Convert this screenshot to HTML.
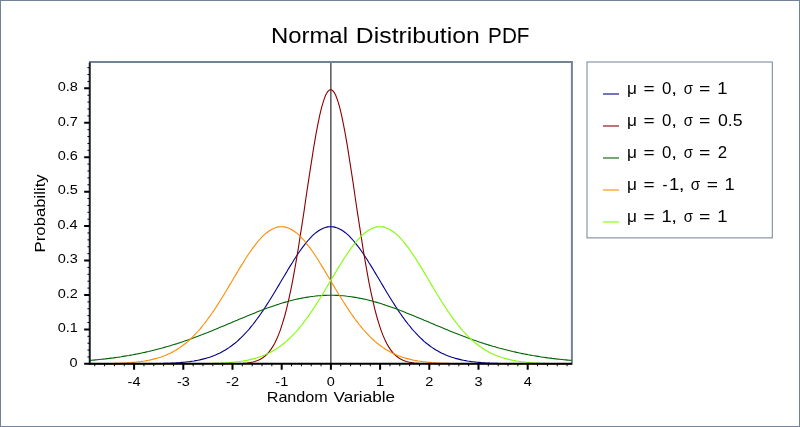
<!DOCTYPE html><html><head><meta charset="utf-8"><style>html,body{margin:0;padding:0;background:#fff}svg{display:block;will-change:transform;transform:translateZ(0)}text{font-family:"Liberation Sans",sans-serif;fill:#000}</style></head><body>
<svg width="800" height="427" viewBox="0 0 800 427">
<defs><clipPath id="c"><rect x="90" y="62" width="481.9" height="302.85"/></clipPath></defs>
<rect x="0.5" y="0.5" width="799" height="426" fill="#fff" stroke="#728395" stroke-width="1"/>
<path d="M89,62 H571.9 V364.85" fill="none" stroke="#728395" stroke-width="2" stroke-linejoin="miter"/>
<line x1="330.9" y1="63" x2="330.9" y2="363.85" stroke="#000" stroke-width="1"/>
<g clip-path="url(#c)">
<polyline points="89.6,363.8 91.5,363.8 93.5,363.8 95.5,363.8 97.4,363.8 99.4,363.8 101.4,363.8 103.3,363.8 105.3,363.8 107.3,363.8 109.2,363.8 111.2,363.8 113.2,363.8 115.2,363.8 117.1,363.8 119.1,363.8 121.1,363.8 123.0,363.8 125.0,363.8 127.0,363.8 128.9,363.8 130.9,363.8 132.9,363.8 134.8,363.8 136.8,363.8 138.8,363.8 140.7,363.8 142.7,363.8 144.7,363.7 146.6,363.7 148.6,363.7 150.6,363.7 152.5,363.7 154.5,363.6 156.5,363.6 158.4,363.5 160.4,363.5 162.4,363.5 164.4,363.4 166.3,363.3 168.3,363.3 170.3,363.2 172.2,363.1 174.2,363.0 176.2,362.9 178.1,362.7 180.1,362.6 182.1,362.4 184.0,362.2 186.0,362.0 188.0,361.8 189.9,361.6 191.9,361.3 193.9,361.0 195.8,360.6 197.8,360.3 199.8,359.9 201.7,359.4 203.7,358.9 205.7,358.4 207.6,357.8 209.6,357.2 211.6,356.5 213.6,355.8 215.5,355.0 217.5,354.1 219.5,353.2 221.4,352.2 223.4,351.1 225.4,350.0 227.3,348.7 229.3,347.4 231.3,346.0 233.2,344.5 235.2,343.0 237.2,341.3 239.1,339.5 241.1,337.7 243.1,335.7 245.0,333.7 247.0,331.5 249.0,329.3 250.9,326.9 252.9,324.5 254.9,321.9 256.8,319.3 258.8,316.6 260.8,313.8 262.8,310.9 264.7,308.0 266.7,304.9 268.7,301.8 270.6,298.7 272.6,295.5 274.6,292.2 276.5,289.0 278.5,285.6 280.5,282.3 282.4,279.0 284.4,275.7 286.4,272.4 288.3,269.1 290.3,265.9 292.3,262.7 294.2,259.5 296.2,256.5 298.2,253.5 300.1,250.7 302.1,247.9 304.1,245.3 306.0,242.8 308.0,240.5 310.0,238.3 312.0,236.2 313.9,234.4 315.9,232.7 317.9,231.3 319.8,230.0 321.8,228.9 323.8,228.0 325.7,227.4 327.7,226.9 329.7,226.7 331.6,226.7 333.6,226.9 335.6,227.4 337.5,228.0 339.5,228.9 341.5,230.0 343.4,231.3 345.4,232.7 347.4,234.4 349.3,236.2 351.3,238.3 353.3,240.5 355.2,242.8 357.2,245.3 359.2,247.9 361.2,250.7 363.1,253.5 365.1,256.5 367.1,259.5 369.0,262.7 371.0,265.9 373.0,269.1 374.9,272.4 376.9,275.7 378.9,279.0 380.8,282.3 382.8,285.6 384.8,289.0 386.7,292.2 388.7,295.5 390.7,298.7 392.6,301.8 394.6,304.9 396.6,308.0 398.5,310.9 400.5,313.8 402.5,316.6 404.4,319.3 406.4,321.9 408.4,324.5 410.4,326.9 412.3,329.3 414.3,331.5 416.3,333.7 418.2,335.7 420.2,337.7 422.2,339.5 424.1,341.3 426.1,343.0 428.1,344.5 430.0,346.0 432.0,347.4 434.0,348.7 435.9,350.0 437.9,351.1 439.9,352.2 441.8,353.2 443.8,354.1 445.8,355.0 447.7,355.8 449.7,356.5 451.7,357.2 453.7,357.8 455.6,358.4 457.6,358.9 459.6,359.4 461.5,359.9 463.5,360.3 465.5,360.6 467.4,361.0 469.4,361.3 471.4,361.6 473.3,361.8 475.3,362.0 477.3,362.2 479.2,362.4 481.2,362.6 483.2,362.7 485.1,362.9 487.1,363.0 489.1,363.1 491.0,363.2 493.0,363.3 495.0,363.3 496.9,363.4 498.9,363.5 500.9,363.5 502.9,363.5 504.8,363.6 506.8,363.6 508.8,363.7 510.7,363.7 512.7,363.7 514.7,363.7 516.6,363.7 518.6,363.8 520.6,363.8 522.5,363.8 524.5,363.8 526.5,363.8 528.4,363.8 530.4,363.8 532.4,363.8 534.3,363.8 536.3,363.8 538.3,363.8 540.2,363.8 542.2,363.8 544.2,363.8 546.1,363.8 548.1,363.8 550.1,363.8 552.0,363.8 554.0,363.8 556.0,363.8 558.0,363.8 559.9,363.8 561.9,363.8 563.9,363.8 565.8,363.8 567.8,363.8 569.8,363.8 571.7,363.8" fill="none" stroke="#00008b" stroke-width="1.1" stroke-linejoin="round"/>
<polyline points="89.6,363.9 91.5,363.9 93.5,363.9 95.5,363.9 97.4,363.9 99.4,363.9 101.4,363.9 103.3,363.9 105.3,363.9 107.3,363.9 109.2,363.9 111.2,363.9 113.2,363.9 115.2,363.9 117.1,363.9 119.1,363.9 121.1,363.8 123.0,363.8 125.0,363.8 127.0,363.8 128.9,363.8 130.9,363.8 132.9,363.8 134.8,363.8 136.8,363.8 138.8,363.8 140.7,363.8 142.7,363.8 144.7,363.8 146.6,363.8 148.6,363.8 150.6,363.8 152.5,363.8 154.5,363.8 156.5,363.8 158.4,363.8 160.4,363.8 162.4,363.8 164.4,363.8 166.3,363.8 168.3,363.8 170.3,363.8 172.2,363.8 174.2,363.8 176.2,363.8 178.1,363.8 180.1,363.8 182.1,363.8 184.0,363.8 186.0,363.8 188.0,363.8 189.9,363.8 191.9,363.8 193.9,363.8 195.8,363.8 197.8,363.8 199.8,363.8 201.7,363.8 203.7,363.8 205.7,363.8 207.6,363.8 209.6,363.8 211.6,363.8 213.6,363.8 215.5,363.8 217.5,363.8 219.5,363.8 221.4,363.8 223.4,363.8 225.4,363.8 227.3,363.8 229.3,363.8 231.3,363.8 233.2,363.7 235.2,363.7 237.2,363.6 239.1,363.6 241.1,363.5 243.1,363.4 245.0,363.2 247.0,363.0 249.0,362.7 250.9,362.4 252.9,362.0 254.9,361.5 256.8,360.8 258.8,360.0 260.8,359.0 262.8,357.8 264.7,356.3 266.7,354.5 268.7,352.4 270.6,349.9 272.6,346.9 274.6,343.5 276.5,339.5 278.5,334.9 280.5,329.6 282.4,323.7 284.4,317.0 286.4,309.6 288.3,301.4 290.3,292.4 292.3,282.6 294.2,272.1 296.2,260.9 298.2,249.1 300.1,236.7 302.1,223.9 304.1,210.8 306.0,197.5 308.0,184.2 310.0,171.1 312.0,158.3 313.9,146.2 315.9,134.7 317.9,124.2 319.8,114.8 321.8,106.7 323.8,100.1 325.7,95.0 327.7,91.5 329.7,89.8 331.6,89.8 333.6,91.5 335.6,95.0 337.5,100.1 339.5,106.7 341.5,114.8 343.4,124.2 345.4,134.7 347.4,146.2 349.3,158.3 351.3,171.1 353.3,184.2 355.2,197.5 357.2,210.8 359.2,223.9 361.2,236.7 363.1,249.1 365.1,260.9 367.1,272.1 369.0,282.6 371.0,292.4 373.0,301.4 374.9,309.6 376.9,317.0 378.9,323.7 380.8,329.6 382.8,334.9 384.8,339.5 386.7,343.5 388.7,346.9 390.7,349.9 392.6,352.4 394.6,354.5 396.6,356.3 398.5,357.8 400.5,359.0 402.5,360.0 404.4,360.8 406.4,361.5 408.4,362.0 410.4,362.4 412.3,362.7 414.3,363.0 416.3,363.2 418.2,363.4 420.2,363.5 422.2,363.6 424.1,363.6 426.1,363.7 428.1,363.7 430.0,363.8 432.0,363.8 434.0,363.8 435.9,363.8 437.9,363.8 439.9,363.8 441.8,363.8 443.8,363.8 445.8,363.8 447.7,363.8 449.7,363.8 451.7,363.8 453.7,363.8 455.6,363.8 457.6,363.8 459.6,363.8 461.5,363.8 463.5,363.8 465.5,363.8 467.4,363.8 469.4,363.8 471.4,363.8 473.3,363.8 475.3,363.8 477.3,363.8 479.2,363.8 481.2,363.8 483.2,363.8 485.1,363.8 487.1,363.8 489.1,363.8 491.0,363.8 493.0,363.8 495.0,363.8 496.9,363.8 498.9,363.8 500.9,363.8 502.9,363.8 504.8,363.8 506.8,363.8 508.8,363.8 510.7,363.8 512.7,363.8 514.7,363.8 516.6,363.8 518.6,363.8 520.6,363.8 522.5,363.8 524.5,363.8 526.5,363.8 528.4,363.8 530.4,363.8 532.4,363.8 534.3,363.8 536.3,363.8 538.3,363.8 540.2,363.8 542.2,363.9 544.2,363.9 546.1,363.9 548.1,363.9 550.1,363.9 552.0,363.9 554.0,363.9 556.0,363.9 558.0,363.9 559.9,363.9 561.9,363.9 563.9,363.9 565.8,363.9 567.8,363.9 569.8,363.9 571.7,363.9" fill="none" stroke="#8b0000" stroke-width="1.1" stroke-linejoin="round"/>
<polyline points="89.6,360.4 91.5,360.3 93.5,360.1 95.5,359.9 97.4,359.7 99.4,359.5 101.4,359.3 103.3,359.1 105.3,358.9 107.3,358.6 109.2,358.4 111.2,358.1 113.2,357.9 115.2,357.6 117.1,357.3 119.1,357.1 121.1,356.8 123.0,356.4 125.0,356.1 127.0,355.8 128.9,355.5 130.9,355.1 132.9,354.8 134.8,354.4 136.8,354.0 138.8,353.6 140.7,353.2 142.7,352.8 144.7,352.4 146.6,351.9 148.6,351.5 150.6,351.0 152.5,350.5 154.5,350.0 156.5,349.5 158.4,349.0 160.4,348.5 162.4,348.0 164.4,347.4 166.3,346.8 168.3,346.3 170.3,345.7 172.2,345.1 174.2,344.5 176.2,343.9 178.1,343.2 180.1,342.6 182.1,341.9 184.0,341.3 186.0,340.6 188.0,339.9 189.9,339.2 191.9,338.5 193.9,337.8 195.8,337.0 197.8,336.3 199.8,335.5 201.7,334.8 203.7,334.0 205.7,333.2 207.6,332.5 209.6,331.7 211.6,330.9 213.6,330.1 215.5,329.3 217.5,328.4 219.5,327.6 221.4,326.8 223.4,326.0 225.4,325.2 227.3,324.3 229.3,323.5 231.3,322.7 233.2,321.8 235.2,321.0 237.2,320.2 239.1,319.3 241.1,318.5 243.1,317.7 245.0,316.9 247.0,316.1 249.0,315.3 250.9,314.5 252.9,313.7 254.9,312.9 256.8,312.1 258.8,311.3 260.8,310.6 262.8,309.8 264.7,309.1 266.7,308.3 268.7,307.6 270.6,306.9 272.6,306.2 274.6,305.6 276.5,304.9 278.5,304.3 280.5,303.6 282.4,303.0 284.4,302.4 286.4,301.9 288.3,301.3 290.3,300.8 292.3,300.3 294.2,299.8 296.2,299.3 298.2,298.9 300.1,298.5 302.1,298.1 304.1,297.7 306.0,297.4 308.0,297.1 310.0,296.8 312.0,296.5 313.9,296.3 315.9,296.0 317.9,295.8 319.8,295.7 321.8,295.5 323.8,295.4 325.7,295.4 327.7,295.3 329.7,295.3 331.6,295.3 333.6,295.3 335.6,295.4 337.5,295.4 339.5,295.5 341.5,295.7 343.4,295.8 345.4,296.0 347.4,296.3 349.3,296.5 351.3,296.8 353.3,297.1 355.2,297.4 357.2,297.7 359.2,298.1 361.2,298.5 363.1,298.9 365.1,299.3 367.1,299.8 369.0,300.3 371.0,300.8 373.0,301.3 374.9,301.9 376.9,302.4 378.9,303.0 380.8,303.6 382.8,304.3 384.8,304.9 386.7,305.6 388.7,306.2 390.7,306.9 392.6,307.6 394.6,308.3 396.6,309.1 398.5,309.8 400.5,310.6 402.5,311.3 404.4,312.1 406.4,312.9 408.4,313.7 410.4,314.5 412.3,315.3 414.3,316.1 416.3,316.9 418.2,317.7 420.2,318.5 422.2,319.3 424.1,320.2 426.1,321.0 428.1,321.8 430.0,322.7 432.0,323.5 434.0,324.3 435.9,325.2 437.9,326.0 439.9,326.8 441.8,327.6 443.8,328.4 445.8,329.3 447.7,330.1 449.7,330.9 451.7,331.7 453.7,332.5 455.6,333.2 457.6,334.0 459.6,334.8 461.5,335.5 463.5,336.3 465.5,337.0 467.4,337.8 469.4,338.5 471.4,339.2 473.3,339.9 475.3,340.6 477.3,341.3 479.2,341.9 481.2,342.6 483.2,343.2 485.1,343.9 487.1,344.5 489.1,345.1 491.0,345.7 493.0,346.3 495.0,346.8 496.9,347.4 498.9,348.0 500.9,348.5 502.9,349.0 504.8,349.5 506.8,350.0 508.8,350.5 510.7,351.0 512.7,351.5 514.7,351.9 516.6,352.4 518.6,352.8 520.6,353.2 522.5,353.6 524.5,354.0 526.5,354.4 528.4,354.8 530.4,355.1 532.4,355.5 534.3,355.8 536.3,356.1 538.3,356.4 540.2,356.8 542.2,357.1 544.2,357.3 546.1,357.6 548.1,357.9 550.1,358.1 552.0,358.4 554.0,358.6 556.0,358.9 558.0,359.1 559.9,359.3 561.9,359.5 563.9,359.7 565.8,359.9 567.8,360.1 569.8,360.3 571.7,360.4" fill="none" stroke="#006400" stroke-width="1.1" stroke-linejoin="round"/>
<polyline points="89.6,363.8 91.5,363.8 93.5,363.8 95.5,363.7 97.4,363.7 99.4,363.7 101.4,363.7 103.3,363.7 105.3,363.6 107.3,363.6 109.2,363.5 111.2,363.5 113.2,363.5 115.2,363.4 117.1,363.3 119.1,363.3 121.1,363.2 123.0,363.1 125.0,363.0 127.0,362.9 128.9,362.7 130.9,362.6 132.9,362.4 134.8,362.2 136.8,362.0 138.8,361.8 140.7,361.6 142.7,361.3 144.7,361.0 146.6,360.6 148.6,360.3 150.6,359.9 152.5,359.4 154.5,358.9 156.5,358.4 158.4,357.8 160.4,357.2 162.4,356.5 164.4,355.8 166.3,355.0 168.3,354.1 170.3,353.2 172.2,352.2 174.2,351.1 176.2,350.0 178.1,348.7 180.1,347.4 182.1,346.0 184.0,344.5 186.0,343.0 188.0,341.3 189.9,339.5 191.9,337.7 193.9,335.7 195.8,333.7 197.8,331.5 199.8,329.3 201.7,326.9 203.7,324.5 205.7,321.9 207.6,319.3 209.6,316.6 211.6,313.8 213.6,310.9 215.5,308.0 217.5,304.9 219.5,301.8 221.4,298.7 223.4,295.5 225.4,292.2 227.3,289.0 229.3,285.6 231.3,282.3 233.2,279.0 235.2,275.7 237.2,272.4 239.1,269.1 241.1,265.9 243.1,262.7 245.0,259.5 247.0,256.5 249.0,253.5 250.9,250.7 252.9,247.9 254.9,245.3 256.8,242.8 258.8,240.5 260.8,238.3 262.8,236.2 264.7,234.4 266.7,232.7 268.7,231.3 270.6,230.0 272.6,228.9 274.6,228.0 276.5,227.4 278.5,226.9 280.5,226.7 282.4,226.7 284.4,226.9 286.4,227.4 288.3,228.0 290.3,228.9 292.3,230.0 294.2,231.3 296.2,232.7 298.2,234.4 300.1,236.2 302.1,238.3 304.1,240.5 306.0,242.8 308.0,245.3 310.0,247.9 312.0,250.7 313.9,253.5 315.9,256.5 317.9,259.5 319.8,262.7 321.8,265.9 323.8,269.1 325.7,272.4 327.7,275.7 329.7,279.0 331.6,282.3 333.6,285.6 335.6,289.0 337.5,292.2 339.5,295.5 341.5,298.7 343.4,301.8 345.4,304.9 347.4,308.0 349.3,310.9 351.3,313.8 353.3,316.6 355.2,319.3 357.2,321.9 359.2,324.5 361.2,326.9 363.1,329.3 365.1,331.5 367.1,333.7 369.0,335.7 371.0,337.7 373.0,339.5 374.9,341.3 376.9,343.0 378.9,344.5 380.8,346.0 382.8,347.4 384.8,348.7 386.7,350.0 388.7,351.1 390.7,352.2 392.6,353.2 394.6,354.1 396.6,355.0 398.5,355.8 400.5,356.5 402.5,357.2 404.4,357.8 406.4,358.4 408.4,358.9 410.4,359.4 412.3,359.9 414.3,360.3 416.3,360.6 418.2,361.0 420.2,361.3 422.2,361.6 424.1,361.8 426.1,362.0 428.1,362.2 430.0,362.4 432.0,362.6 434.0,362.7 435.9,362.9 437.9,363.0 439.9,363.1 441.8,363.2 443.8,363.3 445.8,363.3 447.7,363.4 449.7,363.5 451.7,363.5 453.7,363.5 455.6,363.6 457.6,363.6 459.6,363.7 461.5,363.7 463.5,363.7 465.5,363.7 467.4,363.7 469.4,363.8 471.4,363.8 473.3,363.8 475.3,363.8 477.3,363.8 479.2,363.8 481.2,363.8 483.2,363.8 485.1,363.8 487.1,363.8 489.1,363.8 491.0,363.8 493.0,363.8 495.0,363.8 496.9,363.8 498.9,363.8 500.9,363.8 502.9,363.8 504.8,363.8 506.8,363.8 508.8,363.8 510.7,363.8 512.7,363.8 514.7,363.8 516.6,363.8 518.6,363.8 520.6,363.8 522.5,363.8 524.5,363.8 526.5,363.8 528.4,363.8 530.4,363.8 532.4,363.8 534.3,363.8 536.3,363.8 538.3,363.8 540.2,363.8 542.2,363.8 544.2,363.8 546.1,363.8 548.1,363.8 550.1,363.8 552.0,363.8 554.0,363.8 556.0,363.8 558.0,363.8 559.9,363.8 561.9,363.8 563.9,363.8 565.8,363.8 567.8,363.8 569.8,363.8 571.7,363.8" fill="none" stroke="#ff8c00" stroke-width="1.1" stroke-linejoin="round"/>
<polyline points="89.6,363.8 91.5,363.8 93.5,363.8 95.5,363.8 97.4,363.8 99.4,363.8 101.4,363.8 103.3,363.8 105.3,363.8 107.3,363.8 109.2,363.8 111.2,363.8 113.2,363.8 115.2,363.8 117.1,363.8 119.1,363.8 121.1,363.8 123.0,363.8 125.0,363.8 127.0,363.8 128.9,363.8 130.9,363.8 132.9,363.8 134.8,363.8 136.8,363.8 138.8,363.8 140.7,363.8 142.7,363.8 144.7,363.8 146.6,363.8 148.6,363.8 150.6,363.8 152.5,363.8 154.5,363.8 156.5,363.8 158.4,363.8 160.4,363.8 162.4,363.8 164.4,363.8 166.3,363.8 168.3,363.8 170.3,363.8 172.2,363.8 174.2,363.8 176.2,363.8 178.1,363.8 180.1,363.8 182.1,363.8 184.0,363.8 186.0,363.8 188.0,363.8 189.9,363.8 191.9,363.8 193.9,363.7 195.8,363.7 197.8,363.7 199.8,363.7 201.7,363.7 203.7,363.6 205.7,363.6 207.6,363.5 209.6,363.5 211.6,363.5 213.6,363.4 215.5,363.3 217.5,363.3 219.5,363.2 221.4,363.1 223.4,363.0 225.4,362.9 227.3,362.7 229.3,362.6 231.3,362.4 233.2,362.2 235.2,362.0 237.2,361.8 239.1,361.6 241.1,361.3 243.1,361.0 245.0,360.6 247.0,360.3 249.0,359.9 250.9,359.4 252.9,358.9 254.9,358.4 256.8,357.8 258.8,357.2 260.8,356.5 262.8,355.8 264.7,355.0 266.7,354.1 268.7,353.2 270.6,352.2 272.6,351.1 274.6,350.0 276.5,348.7 278.5,347.4 280.5,346.0 282.4,344.5 284.4,343.0 286.4,341.3 288.3,339.5 290.3,337.7 292.3,335.7 294.2,333.7 296.2,331.5 298.2,329.3 300.1,326.9 302.1,324.5 304.1,321.9 306.0,319.3 308.0,316.6 310.0,313.8 312.0,310.9 313.9,308.0 315.9,304.9 317.9,301.8 319.8,298.7 321.8,295.5 323.8,292.2 325.7,289.0 327.7,285.6 329.7,282.3 331.6,279.0 333.6,275.7 335.6,272.4 337.5,269.1 339.5,265.9 341.5,262.7 343.4,259.5 345.4,256.5 347.4,253.5 349.3,250.7 351.3,247.9 353.3,245.3 355.2,242.8 357.2,240.5 359.2,238.3 361.2,236.2 363.1,234.4 365.1,232.7 367.1,231.3 369.0,230.0 371.0,228.9 373.0,228.0 374.9,227.4 376.9,226.9 378.9,226.7 380.8,226.7 382.8,226.9 384.8,227.4 386.7,228.0 388.7,228.9 390.7,230.0 392.6,231.3 394.6,232.7 396.6,234.4 398.5,236.2 400.5,238.3 402.5,240.5 404.4,242.8 406.4,245.3 408.4,247.9 410.4,250.7 412.3,253.5 414.3,256.5 416.3,259.5 418.2,262.7 420.2,265.9 422.2,269.1 424.1,272.4 426.1,275.7 428.1,279.0 430.0,282.3 432.0,285.6 434.0,289.0 435.9,292.2 437.9,295.5 439.9,298.7 441.8,301.8 443.8,304.9 445.8,308.0 447.7,310.9 449.7,313.8 451.7,316.6 453.7,319.3 455.6,321.9 457.6,324.5 459.6,326.9 461.5,329.3 463.5,331.5 465.5,333.7 467.4,335.7 469.4,337.7 471.4,339.5 473.3,341.3 475.3,343.0 477.3,344.5 479.2,346.0 481.2,347.4 483.2,348.7 485.1,350.0 487.1,351.1 489.1,352.2 491.0,353.2 493.0,354.1 495.0,355.0 496.9,355.8 498.9,356.5 500.9,357.2 502.9,357.8 504.8,358.4 506.8,358.9 508.8,359.4 510.7,359.9 512.7,360.3 514.7,360.6 516.6,361.0 518.6,361.3 520.6,361.6 522.5,361.8 524.5,362.0 526.5,362.2 528.4,362.4 530.4,362.6 532.4,362.7 534.3,362.9 536.3,363.0 538.3,363.1 540.2,363.2 542.2,363.3 544.2,363.3 546.1,363.4 548.1,363.5 550.1,363.5 552.0,363.5 554.0,363.6 556.0,363.6 558.0,363.7 559.9,363.7 561.9,363.7 563.9,363.7 565.8,363.7 567.8,363.8 569.8,363.8 571.7,363.8" fill="none" stroke="#7fff00" stroke-width="1.1" stroke-linejoin="round"/>
</g>
<line x1="89.75" y1="62.6" x2="89.75" y2="364.85" stroke="#171e28" stroke-width="2"/>
<line x1="89" y1="363.85" x2="571.9" y2="363.85" stroke="#000" stroke-width="2"/>
<path d="M94.74,363.85v2.4M104.58,363.85v2.4M114.42,363.85v2.4M124.26,363.85v2.4M143.94,363.85v2.4M153.78,363.85v2.4M163.62,363.85v2.4M173.46,363.85v2.4M193.14,363.85v2.4M202.98,363.85v2.4M212.82,363.85v2.4M222.66,363.85v2.4M242.34,363.85v2.4M252.18,363.85v2.4M262.02,363.85v2.4M271.86,363.85v2.4M291.54,363.85v2.4M301.38,363.85v2.4M311.22,363.85v2.4M321.06,363.85v2.4M340.74,363.85v2.4M350.58,363.85v2.4M360.42,363.85v2.4M370.26,363.85v2.4M389.94,363.85v2.4M399.78,363.85v2.4M409.62,363.85v2.4M419.46,363.85v2.4M439.14,363.85v2.4M448.98,363.85v2.4M458.82,363.85v2.4M468.66,363.85v2.4M488.34,363.85v2.4M498.18,363.85v2.4M508.02,363.85v2.4M517.86,363.85v2.4M537.54,363.85v2.4M547.38,363.85v2.4M557.22,363.85v2.4M567.06,363.85v2.4" stroke="#000" stroke-width="1" fill="none"/>
<path d="M134.10,363.85v5.8M183.30,363.85v5.8M232.50,363.85v5.8M281.70,363.85v5.8M330.90,363.85v5.8M380.10,363.85v5.8M429.30,363.85v5.8M478.50,363.85v5.8M527.70,363.85v5.8" stroke="#000" stroke-width="2" fill="none"/>
<path d="M89.75,356.96h-2.3M89.75,350.07h-2.3M89.75,343.19h-2.3M89.75,336.30h-2.3M89.75,322.52h-2.3M89.75,315.63h-2.3M89.75,308.75h-2.3M89.75,301.86h-2.3M89.75,288.08h-2.3M89.75,281.19h-2.3M89.75,274.31h-2.3M89.75,267.42h-2.3M89.75,253.64h-2.3M89.75,246.75h-2.3M89.75,239.87h-2.3M89.75,232.98h-2.3M89.75,219.20h-2.3M89.75,212.31h-2.3M89.75,205.43h-2.3M89.75,198.54h-2.3M89.75,184.76h-2.3M89.75,177.87h-2.3M89.75,170.99h-2.3M89.75,164.10h-2.3M89.75,150.32h-2.3M89.75,143.43h-2.3M89.75,136.55h-2.3M89.75,129.66h-2.3M89.75,115.88h-2.3M89.75,108.99h-2.3M89.75,102.11h-2.3M89.75,95.22h-2.3M89.75,81.44h-2.3M89.75,74.55h-2.3M89.75,67.67h-2.3" stroke="#000" stroke-width="1" fill="none"/>
<path d="M89.75,363.85h-5.6M89.75,329.41h-5.6M89.75,294.97h-5.6M89.75,260.53h-5.6M89.75,226.09h-5.6M89.75,191.65h-5.6M89.75,157.21h-5.6M89.75,122.77h-5.6M89.75,88.33h-5.6" stroke="#000" stroke-width="2" fill="none"/>
<rect x="587" y="62" width="185.3" height="175.9" fill="#fff" stroke="#728395" stroke-width="1"/>
<line x1="603" y1="94" x2="619" y2="94" stroke="#00008b" stroke-width="1.1"/>
<line x1="603" y1="126" x2="619" y2="126" stroke="#8b0000" stroke-width="1.1"/>
<line x1="603" y1="158" x2="619" y2="158" stroke="#006400" stroke-width="1.1"/>
<line x1="603" y1="190" x2="619" y2="190" stroke="#ff8c00" stroke-width="1.1"/>
<line x1="603" y1="222" x2="619" y2="222" stroke="#7fff00" stroke-width="1.1"/>
<text x="270.93" y="42.70" font-size="21.8" textLength="77.04" lengthAdjust="spacingAndGlyphs" xml:space="preserve">Normal</text>
<text x="355.86" y="42.70" font-size="21.8" textLength="123.93" lengthAdjust="spacingAndGlyphs" xml:space="preserve">Distribution</text>
<text x="488.08" y="42.70" font-size="21.8" textLength="41.39" lengthAdjust="spacingAndGlyphs" xml:space="preserve">PDF</text>
<text x="266.74" y="402.10" font-size="14.8" textLength="61.00" lengthAdjust="spacingAndGlyphs" xml:space="preserve">Random</text>
<text x="333.50" y="402.10" font-size="14.8" textLength="61.49" lengthAdjust="spacingAndGlyphs" xml:space="preserve">Variable</text>
<text transform="translate(45.0,212.7) rotate(-90)" x="-39.71" y="0.00" font-size="14.5" textLength="78.11" lengthAdjust="spacingAndGlyphs" xml:space="preserve">Probability</text>
<text x="127.60" y="386.00" font-size="13.2" textLength="12.91" lengthAdjust="spacingAndGlyphs" xml:space="preserve">-4</text>
<text x="176.91" y="386.00" font-size="13.2" textLength="12.91" lengthAdjust="spacingAndGlyphs" xml:space="preserve">-3</text>
<text x="226.11" y="386.00" font-size="13.2" textLength="12.91" lengthAdjust="spacingAndGlyphs" xml:space="preserve">-2</text>
<text x="275.31" y="386.00" font-size="13.2" textLength="12.91" lengthAdjust="spacingAndGlyphs" xml:space="preserve">-1</text>
<text x="326.82" y="386.00" font-size="13.2" textLength="8.08" lengthAdjust="spacingAndGlyphs" xml:space="preserve">0</text>
<text x="375.90" y="386.00" font-size="13.2" textLength="8.08" lengthAdjust="spacingAndGlyphs" xml:space="preserve">1</text>
<text x="425.22" y="386.00" font-size="13.2" textLength="8.08" lengthAdjust="spacingAndGlyphs" xml:space="preserve">2</text>
<text x="474.53" y="386.00" font-size="13.2" textLength="8.08" lengthAdjust="spacingAndGlyphs" xml:space="preserve">3</text>
<text x="523.73" y="386.00" font-size="13.2" textLength="8.08" lengthAdjust="spacingAndGlyphs" xml:space="preserve">4</text>
<text x="69.59" y="366.65" font-size="13.2" textLength="8.08" lengthAdjust="spacingAndGlyphs" xml:space="preserve">0</text>
<text x="57.70" y="332.21" font-size="13.2" textLength="20.18" lengthAdjust="spacingAndGlyphs" xml:space="preserve">0.1</text>
<text x="57.70" y="297.77" font-size="13.2" textLength="20.18" lengthAdjust="spacingAndGlyphs" xml:space="preserve">0.2</text>
<text x="57.70" y="263.33" font-size="13.2" textLength="20.18" lengthAdjust="spacingAndGlyphs" xml:space="preserve">0.3</text>
<text x="57.48" y="228.89" font-size="13.2" textLength="20.18" lengthAdjust="spacingAndGlyphs" xml:space="preserve">0.4</text>
<text x="57.70" y="194.45" font-size="13.2" textLength="20.18" lengthAdjust="spacingAndGlyphs" xml:space="preserve">0.5</text>
<text x="57.70" y="160.01" font-size="13.2" textLength="20.18" lengthAdjust="spacingAndGlyphs" xml:space="preserve">0.6</text>
<text x="57.70" y="125.57" font-size="13.2" textLength="20.18" lengthAdjust="spacingAndGlyphs" xml:space="preserve">0.7</text>
<text x="57.70" y="91.13" font-size="13.2" textLength="20.18" lengthAdjust="spacingAndGlyphs" xml:space="preserve">0.8</text>
<text x="627.02" y="93.80" font-size="16" textLength="9.92" lengthAdjust="spacingAndGlyphs" xml:space="preserve">μ</text>
<text x="643.41" y="93.80" font-size="16" textLength="11.10" lengthAdjust="spacingAndGlyphs" xml:space="preserve">=</text>
<text x="661.98" y="93.80" font-size="16" textLength="9.34" lengthAdjust="spacingAndGlyphs" xml:space="preserve">0</text>
<text x="671.18" y="93.80" font-size="16" textLength="5.78" lengthAdjust="spacingAndGlyphs" xml:space="preserve">,</text>
<text x="683.74" y="93.80" font-size="16" textLength="9.18" lengthAdjust="spacingAndGlyphs" xml:space="preserve">σ</text>
<text x="698.99" y="93.80" font-size="16" textLength="11.33" lengthAdjust="spacingAndGlyphs" xml:space="preserve">=</text>
<text x="717.18" y="93.80" font-size="16" textLength="10.23" lengthAdjust="spacingAndGlyphs" xml:space="preserve">1</text>
<text x="627.02" y="125.80" font-size="16" textLength="9.92" lengthAdjust="spacingAndGlyphs" xml:space="preserve">μ</text>
<text x="643.41" y="125.80" font-size="16" textLength="11.10" lengthAdjust="spacingAndGlyphs" xml:space="preserve">=</text>
<text x="661.98" y="125.80" font-size="16" textLength="9.34" lengthAdjust="spacingAndGlyphs" xml:space="preserve">0</text>
<text x="671.18" y="125.80" font-size="16" textLength="5.78" lengthAdjust="spacingAndGlyphs" xml:space="preserve">,</text>
<text x="683.74" y="125.80" font-size="16" textLength="9.18" lengthAdjust="spacingAndGlyphs" xml:space="preserve">σ</text>
<text x="698.99" y="125.80" font-size="16" textLength="11.33" lengthAdjust="spacingAndGlyphs" xml:space="preserve">=</text>
<text x="718.05" y="125.80" font-size="16" textLength="24.57" lengthAdjust="spacingAndGlyphs" xml:space="preserve">0.5</text>
<text x="627.02" y="157.80" font-size="16" textLength="9.92" lengthAdjust="spacingAndGlyphs" xml:space="preserve">μ</text>
<text x="643.41" y="157.80" font-size="16" textLength="11.10" lengthAdjust="spacingAndGlyphs" xml:space="preserve">=</text>
<text x="661.98" y="157.80" font-size="16" textLength="9.34" lengthAdjust="spacingAndGlyphs" xml:space="preserve">0</text>
<text x="671.18" y="157.80" font-size="16" textLength="5.78" lengthAdjust="spacingAndGlyphs" xml:space="preserve">,</text>
<text x="683.74" y="157.80" font-size="16" textLength="9.18" lengthAdjust="spacingAndGlyphs" xml:space="preserve">σ</text>
<text x="698.99" y="157.80" font-size="16" textLength="11.33" lengthAdjust="spacingAndGlyphs" xml:space="preserve">=</text>
<text x="717.81" y="157.80" font-size="16" textLength="9.37" lengthAdjust="spacingAndGlyphs" xml:space="preserve">2</text>
<text x="627.02" y="189.80" font-size="16" textLength="9.92" lengthAdjust="spacingAndGlyphs" xml:space="preserve">μ</text>
<text x="643.41" y="189.80" font-size="16" textLength="11.10" lengthAdjust="spacingAndGlyphs" xml:space="preserve">=</text>
<text x="662.44" y="189.80" font-size="16" textLength="4.89" lengthAdjust="spacingAndGlyphs" xml:space="preserve">-</text>
<text x="669.08" y="189.80" font-size="16" textLength="10.23" lengthAdjust="spacingAndGlyphs" xml:space="preserve">1</text>
<text x="678.68" y="189.80" font-size="16" textLength="5.78" lengthAdjust="spacingAndGlyphs" xml:space="preserve">,</text>
<text x="690.82" y="189.80" font-size="16" textLength="9.39" lengthAdjust="spacingAndGlyphs" xml:space="preserve">σ</text>
<text x="706.70" y="189.80" font-size="16" textLength="11.21" lengthAdjust="spacingAndGlyphs" xml:space="preserve">=</text>
<text x="724.58" y="189.80" font-size="16" textLength="10.23" lengthAdjust="spacingAndGlyphs" xml:space="preserve">1</text>
<text x="627.02" y="221.80" font-size="16" textLength="9.92" lengthAdjust="spacingAndGlyphs" xml:space="preserve">μ</text>
<text x="643.41" y="221.80" font-size="16" textLength="11.10" lengthAdjust="spacingAndGlyphs" xml:space="preserve">=</text>
<text x="661.48" y="221.80" font-size="16" textLength="10.23" lengthAdjust="spacingAndGlyphs" xml:space="preserve">1</text>
<text x="671.18" y="221.80" font-size="16" textLength="5.78" lengthAdjust="spacingAndGlyphs" xml:space="preserve">,</text>
<text x="683.74" y="221.80" font-size="16" textLength="9.18" lengthAdjust="spacingAndGlyphs" xml:space="preserve">σ</text>
<text x="698.99" y="221.80" font-size="16" textLength="11.33" lengthAdjust="spacingAndGlyphs" xml:space="preserve">=</text>
<text x="717.18" y="221.80" font-size="16" textLength="10.23" lengthAdjust="spacingAndGlyphs" xml:space="preserve">1</text>
</svg></body></html>
